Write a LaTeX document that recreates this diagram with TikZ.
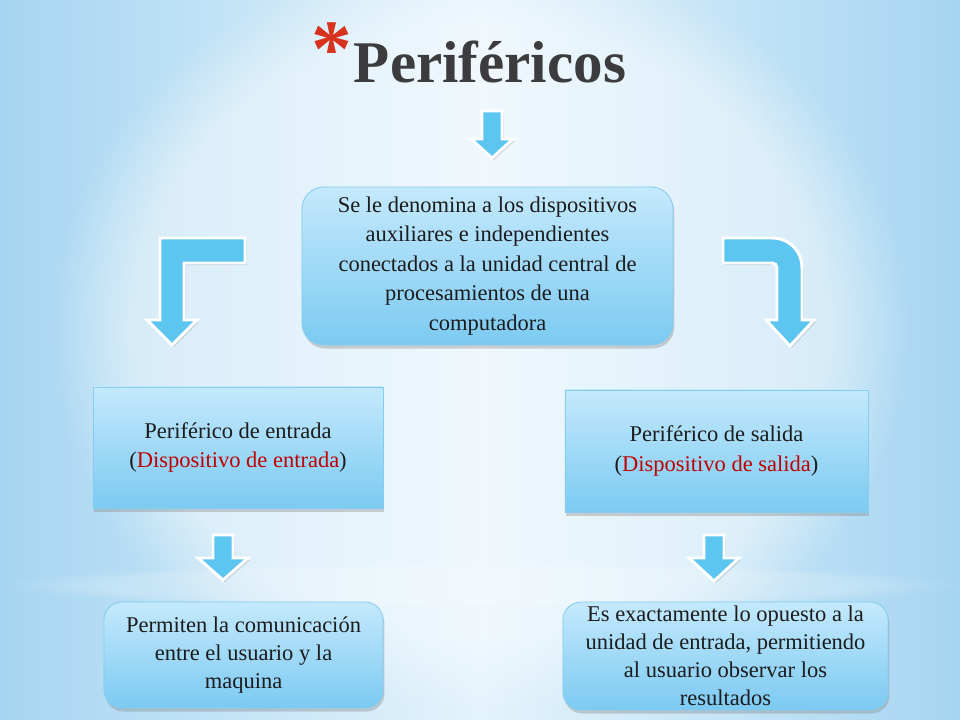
\documentclass[tikz,border=0pt]{standalone}
\usepackage{fontspec}
\setmainfont{Liberation Serif}
\usetikzlibrary{shadows,fadings}
\definecolor{bgedge}{HTML}{A6D5F1}
\definecolor{bgmid}{HTML}{E4F3FC}
\definecolor{arrowblue}{HTML}{5CC6F0}
\definecolor{boxtop}{HTML}{C4E9FC}
\definecolor{boxbot}{HTML}{7CCAF2}
\definecolor{boxedge}{HTML}{86CCEF}
\definecolor{redtext}{HTML}{C00000}
\definecolor{titlegray}{HTML}{3C3C3E}
\definecolor{starred}{HTML}{D7321E}
\definecolor{bodytext}{HTML}{1C1C1C}
\begin{document}
\begin{tikzpicture}[x=0.025cm,y=-0.025cm,
  blockarrow/.style={fill=arrowblue, draw=white, line width=2.1pt, line join=miter,
    drop shadow={opacity=0.28, shadow xshift=1.2pt, shadow yshift=-1.5pt}},
  infobox/.style={draw=boxedge, line width=0.6pt, top color=boxtop, bottom color=boxbot,
    align=center, text=bodytext, font=\fontsize{16}{21}\selectfont, inner sep=2pt,
    drop shadow={opacity=0.35, shadow xshift=1pt, shadow yshift=-2.5pt}},
  roundbox/.style={infobox, rounded corners=0.55cm}
]
\useasboundingbox (0,0) rectangle (960,720);
% background
\shade[left color=bgedge, right color=bgedge, middle color=bgmid] (0,0) rectangle (960,720);
\fill[white, opacity=0.45, path fading=circle with fuzzy edge 20 percent] (480,330) ellipse (430 and 380);
\fill[white, opacity=0.2, path fading=circle with fuzzy edge 20 percent] (480,585) ellipse (480 and 22);

% title
\node (title) [text=titlegray, font=\fontsize{42}{46}\bfseries, anchor=base] at (490,83) {Periféricos};
\node (star) [text=starred, font=\fontsize{58}{60}\bfseries] at (332,50) {*};

% boxes
\node (center) [roundbox, minimum width=9.275cm, minimum height=3.95cm] at (487.5,266)
  {Se le denomina a los dispositivos\\auxiliares e independientes\\conectados a la unidad central de\\procesamientos de una\\computadora};
\node (inL) [infobox, minimum width=7.25cm, minimum height=3.025cm] at (238,447.5)
  {Periférico de entrada\\(\textcolor{redtext}{Dispositivo de entrada})};
\node (outR) [infobox, minimum width=7.575cm, minimum height=3.05cm] at (716.5,451)
  {Periférico de salida\\(\textcolor{redtext}{Dispositivo de salida})};
\node (descL) [roundbox, rounded corners=0.45cm, minimum width=6.975cm, minimum height=2.65cm,
  font=\fontsize{16}{20}\selectfont] at (243.5,655)
  {Permiten la comunicación\\entre el usuario y la\\maquina};
\node (descR) [roundbox, rounded corners=0.45cm, minimum width=8.125cm, minimum height=2.7cm,
  font=\fontsize{16}{20}\selectfont] at (725.5,656)
  {Es exactamente lo opuesto a la\\unidad de entrada, permitiendo\\al usuario observar los\\resultados};

% block arrows
\draw[blockarrow] (482,111) -- (502,111) -- (502,139) -- (513,139) -- (492,158) -- (471,139) -- (482,139) -- cycle;
\draw[blockarrow] (245,238) -- (160,238) -- (160,320) -- (147,320) -- (172,345) -- (197,320) -- (184,320) -- (184,263) -- (245,263) -- cycle;
\draw[blockarrow] (723,238) -- (772,238) .. controls (789,238) and (802,251) .. (802,268) -- (802,320) -- (814,320) -- (790,346) -- (766,320) -- (777,320) -- (777,268) .. controls (777,265) and (775,263) .. (772,263) -- (723,263) -- cycle;
\draw[blockarrow] (213,535) -- (233,535) -- (233,558) -- (248,558) -- (223,580) -- (198,558) -- (213,558) -- cycle;
\draw[blockarrow] (704,535) -- (724,535) -- (724,558) -- (739,558) -- (714,581) -- (689,558) -- (704,558) -- cycle;
\end{tikzpicture}
\end{document}
